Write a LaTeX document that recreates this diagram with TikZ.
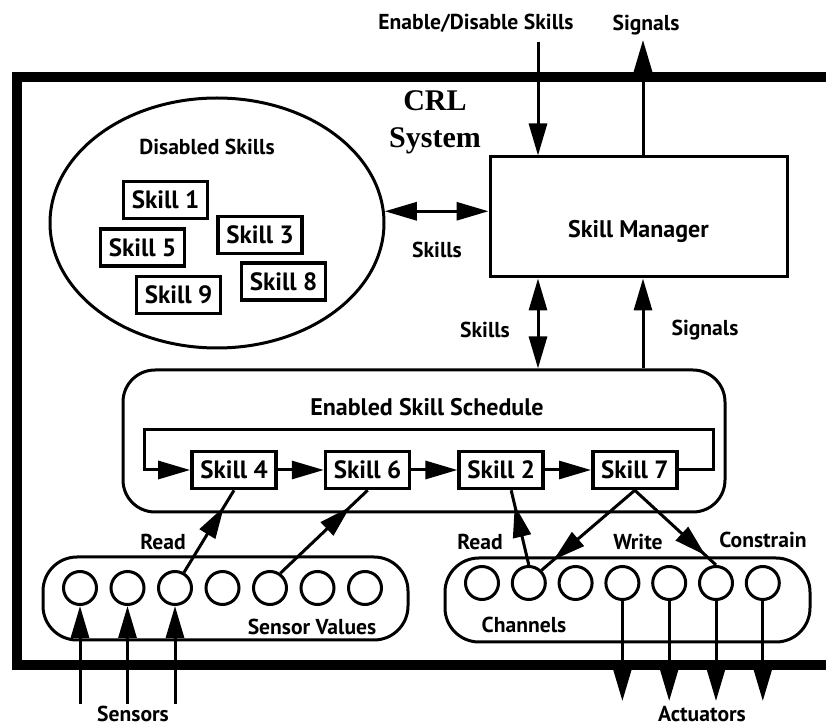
\documentclass[tikz,border=0pt]{standalone}
\usepackage{fontspec}
\setmainfont{PT Sans}
\newfontfamily\crlfont{Liberation Serif}
\usetikzlibrary{arrows.meta,positioning,shapes.geometric,decorations.markings}

\begin{document}
\begin{tikzpicture}[
    x=0.5pt, y=-0.5pt,
    node distance=23pt,
    lbl/.style={inner sep=0pt, font=\fontsize{10.8}{12}\selectfont\bfseries},
    headtext/.style={inner sep=0pt, font=\fontsize{12}{14}\selectfont\bfseries},
    skillbox/.style={rectangle, draw, line width=1.8pt, minimum width=42pt, minimum height=18.5pt, inner sep=0pt, font=\fontsize{12.5}{14}\selectfont\bfseries},
    valcircle/.style={circle, draw, line width=1.5pt, minimum size=16.5pt, inner sep=0pt},
    tray/.style={rectangle, draw, line width=1.5pt, rounded corners=17pt},
    arrow/.style={-{Triangle[length=16pt,width=9pt]}, line width=1.5pt},
    dblarrow/.style={{Triangle[length=16pt,width=9pt]}-{Triangle[length=16pt,width=9pt]}, line width=1.5pt},
    midarrow/.style={line width=1.5pt, postaction={decorate},
        decoration={markings, mark=at position #1 with {\arrow{Triangle[length=16pt,width=9pt]}}}}
]
\useasboundingbox (0,0) rectangle (826,727);

% System frame
\begin{scope}
\clip (0,0) rectangle (826,727);
\draw[line width=5pt] (17,77) rectangle (850,665);
\end{scope}
\node[inner sep=0pt, align=center, font=\crlfont\fontsize{15}{18.5}\selectfont\bfseries] (crl) at (435,122) {CRL\\System};

% Skill manager
\node[headtext, rectangle, draw, line width=1.5pt, minimum width=148.5pt, minimum height=60pt,
      text height=23pt, text depth=2.5pt] (sm) at (638.5,217) {Skill Manager};

% Disabled skills
\node[ellipse, draw, line width=1.5pt, minimum width=167pt, minimum height=125pt, inner sep=0pt] (disabled) at (217,223) {};
\node[lbl] (distitle) at (207,147) {Disabled Skills};
\node[skillbox] (s1) at (165.5,200) {Skill 1};
\node[skillbox] (s5) at (142.5,247.5) {Skill 5};
\node[skillbox] (s3) at (260,235) {Skill 3};
\node[skillbox] (s8) at (283.5,281.5) {Skill 8};
\node[skillbox] (s9) at (178.5,295) {Skill 9};

\draw[dblarrow] (disabled.4) -- (disabled.4 -| sm.west);
\node[lbl] (skl1) at (437,250) {Skills};

% Outside connections
\node[lbl] (enable) at (476,23) {Enable/Disable Skills};
\node[lbl] (sigout) at (646,25) {Signals};
\coordinate (enin) at (538,42);
\coordinate (sgout) at (643,40);
\draw[arrow] (enin) -- (enin |- sm.north);
\draw[arrow] (sgout |- sm.north) -- (sgout);

% Enabled skill schedule
\node[tray, rounded corners=16pt, minimum width=301pt, minimum height=71pt] (ess) at (424,441) {};
\node[headtext] (esstitle) at (427,407) {Enabled Skill Schedule};

\draw[dblarrow] (enin |- sm.south) -- (enin |- ess.north);
\draw[arrow] (sgout |- ess.north) -- (sgout |- sm.south);
\node[lbl] (skl2) at (485,330) {Skills};
\node[lbl] (sigin) at (705,330) {Signals};

\node[skillbox] (s4) at (234,470) {Skill 4};
\node[skillbox, right=of s4] (s6) {Skill 6};
\node[skillbox, right=of s6] (s2) {Skill 2};
\node[skillbox, right=of s2] (s7) {Skill 7};
\foreach \a/\b in {s4/s6, s6/s2, s2/s7}
    \draw[arrow] (\a) -- (\b);
\draw[arrow] (s7.east) -- ++(35,0) -- ++(0,-40) -| ([xshift=-23pt]s4.west) -- (s4.west);

% Sensor values and channels
\node[tray, minimum width=182.5pt, minimum height=41.5pt] (svtray) at (225.5,598.5) {};
\node[tray, minimum width=182.5pt, minimum height=42pt] (chtray) at (627.5,600) {};
\foreach \i in {1,...,7} {
    \node[valcircle] (sv\i) at ({32.5+47.5*\i},588) {};
    \node[valcircle] (ch\i) at ({435.2+46.8*\i},583) {};
}
\node[lbl] (svlbl) at (312,627) {Sensor Values};
\node[lbl] (chlbl) at (524,625) {Channels};

% Sensors and actuators
\foreach \i in {1,2,3} {
    \path (sv\i.south) ++(0,98) coordinate (sin\i);
    \draw[arrow] (sin\i) -- (sv\i.south);
}
\foreach \i in {4,...,7} {
    \path (ch\i.south) ++(0,100) coordinate (act\i);
    \draw[arrow] (ch\i.south) -- (act\i);
}
\node[lbl] (sensors) at (133,714) {Sensors};
\node[lbl] (actuators) at (702,714) {Actuators};

% Read / write / constrain
\draw[midarrow=0.8] (sv3.60) -- (s4.south);
\draw[midarrow=0.8] (sv5.55) -- (s6.south);
\draw[midarrow=0.8] (ch2.north) -- ([xshift=5pt]s2.south);
\draw[midarrow=0.87] (s7.south) -- (ch2.45);
\draw[midarrow=0.87] (s7.south) -- (ch6.north);
\node[lbl] (rd1) at (163,542) {Read};
\node[lbl] (rd2) at (480,542) {Read};
\node[lbl] (wr) at (638,542) {Write};
\node[lbl] (cons) at (763,540) {Constrain};

\end{tikzpicture}
\end{document}
